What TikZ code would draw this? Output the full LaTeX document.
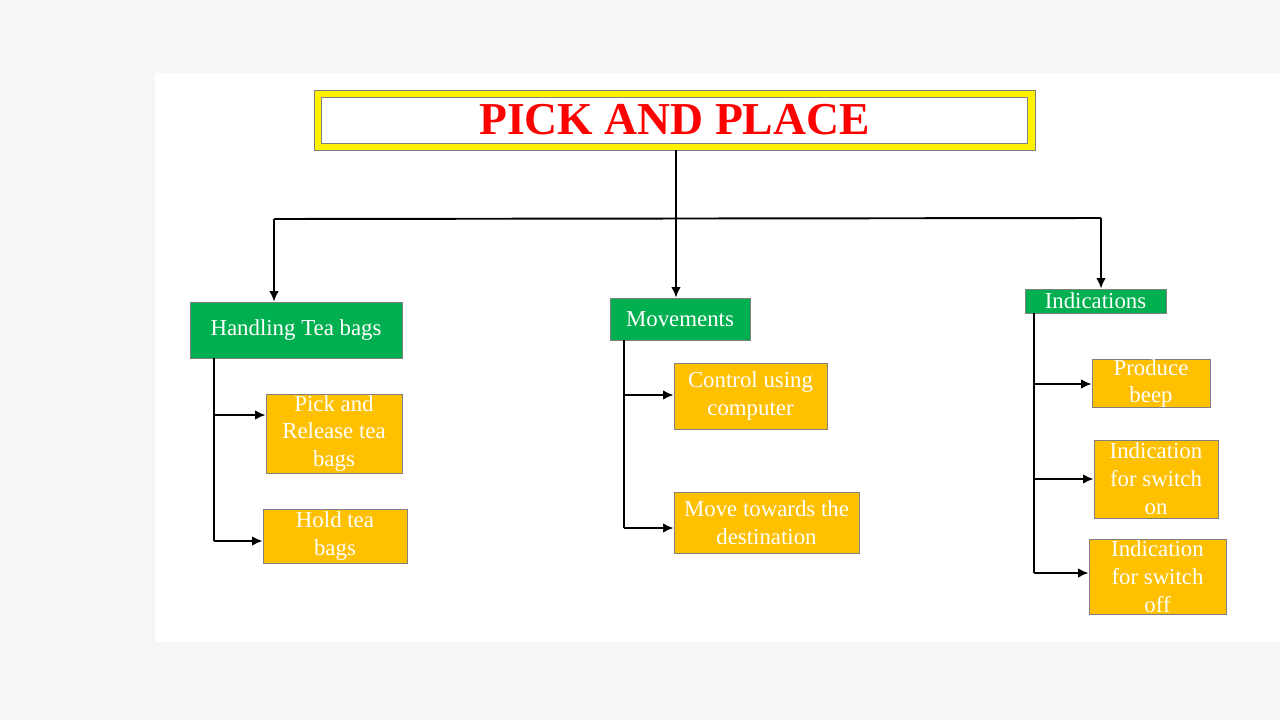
\documentclass[tikz,border=0pt]{standalone}
\usepackage{fontspec}
\setmainfont{Liberation Serif}
\usetikzlibrary{arrows.meta}
\definecolor{pagegray}{HTML}{F6F6F4}
\definecolor{edgegray}{HTML}{7F7F7F}
\definecolor{headgreen}{HTML}{00B050}
\definecolor{leaforange}{HTML}{FFC000}
\definecolor{titlered}{HTML}{FF0000}

\begin{document}
\begin{tikzpicture}[x=0.02cm,y=-0.02cm,
	every node/.style={inner sep=0pt, align=center, font=\fontsize{13}{15.9}\selectfont, text=white},
	head/.style={draw=edgegray, line width=0.5pt, fill=headgreen},
	leaf/.style={draw=edgegray, line width=0.5pt, fill=leaforange},
	link/.style={line width=1.1pt, -{Latex[length=6pt,width=5.5pt]}},
	trunk/.style={line width=1.1pt}]
\fill[pagegray] (0,0) rectangle (1280,720);
\fill[white] (155,73) rectangle (1280,642);
% title
\node [draw=edgegray, line width=0.5pt, fill=yellow, minimum width=14.42cm, minimum height=1.2cm] (titlebox) at (674.5,120) {};
\node [draw=edgegray, line width=0.5pt, fill=white, minimum width=14.12cm, minimum height=0.92cm,
	text=titlered, font=\fontsize{26}{30}\bfseries] (title) at (titlebox) {PICK AND PLACE};
% main branches
\node [head, minimum width=4.24cm, minimum height=1.12cm] (handling) at (296,330) {Handling Tea bags};
\node [head, minimum width=2.8cm, minimum height=0.84cm] (movements) at (680,319) {Movements};
\node [head, minimum width=2.82cm, minimum height=0.48cm] (indications) at (1095.5,301) {Indications};
% leaves
\node [leaf, minimum width=2.72cm, minimum height=1.58cm] (pick) at (334,433.5) {Pick and\\Release tea\\bags};
\node [leaf, minimum width=2.88cm, minimum height=1.08cm] (hold) at (335,536) {Hold tea\\bags};
\node [leaf, minimum width=3.06cm, minimum height=1.32cm] (control) at (750.5,396) {Control using\\computer};
\node [leaf, minimum width=3.7cm, minimum height=1.22cm] (move) at (766.5,522.5) {Move towards the\\destination};
\node [leaf, minimum width=2.36cm, minimum height=0.94cm] (beep) at (1151,383.5) {Produce\\beep};
\node [leaf, minimum width=2.48cm, minimum height=1.56cm] (switchon) at (1156,479) {Indication\\for switch\\on};
\node [leaf, minimum width=2.74cm, minimum height=1.5cm] (switchoff) at (1157.5,576.5) {Indication\\for switch\\off};
% top connectors
\coordinate (hub) at (676,218.5);
\coordinate (hubL) at (274,219);
\coordinate (hubR) at (1101,218);
\draw [trunk] (titlebox.south -| hub) -- (hub);
\draw [trunk] (hubL) -- (hubR);
\draw [link] (hubL) -- (hubL |- handling.north);
\draw [link] (hub) -- (hub |- movements.north);
\draw [link] (hubR) -- (hubR |- indications.north);
% handling tea bags
\coordinate (bPick) at (214,415);
\coordinate (bHold) at (214,541);
\draw [trunk] (bHold |- handling.south) -- (bHold);
\draw [link] (bPick) -- (bPick -| pick.west);
\draw [link] (bHold) -- (bHold -| hold.west);
% movements
\coordinate (bControl) at (624,395);
\coordinate (bMove) at (624,528);
\draw [trunk] (bMove |- movements.south) -- (bMove);
\draw [link] (bControl) -- (bControl -| control.west);
\draw [link] (bMove) -- (bMove -| move.west);
% indications
\coordinate (bBeep) at (1034,384);
\coordinate (bOn) at (1034,479);
\coordinate (bOff) at (1034,573);
\draw [trunk] (bOff |- indications.south) -- (bOff);
\draw [link] (bBeep) -- (bBeep -| beep.west);
\draw [link] (bOn) -- (bOn -| switchon.west);
\draw [link] (bOff) -- (bOff -| switchoff.west);
\end{tikzpicture}
\end{document}
